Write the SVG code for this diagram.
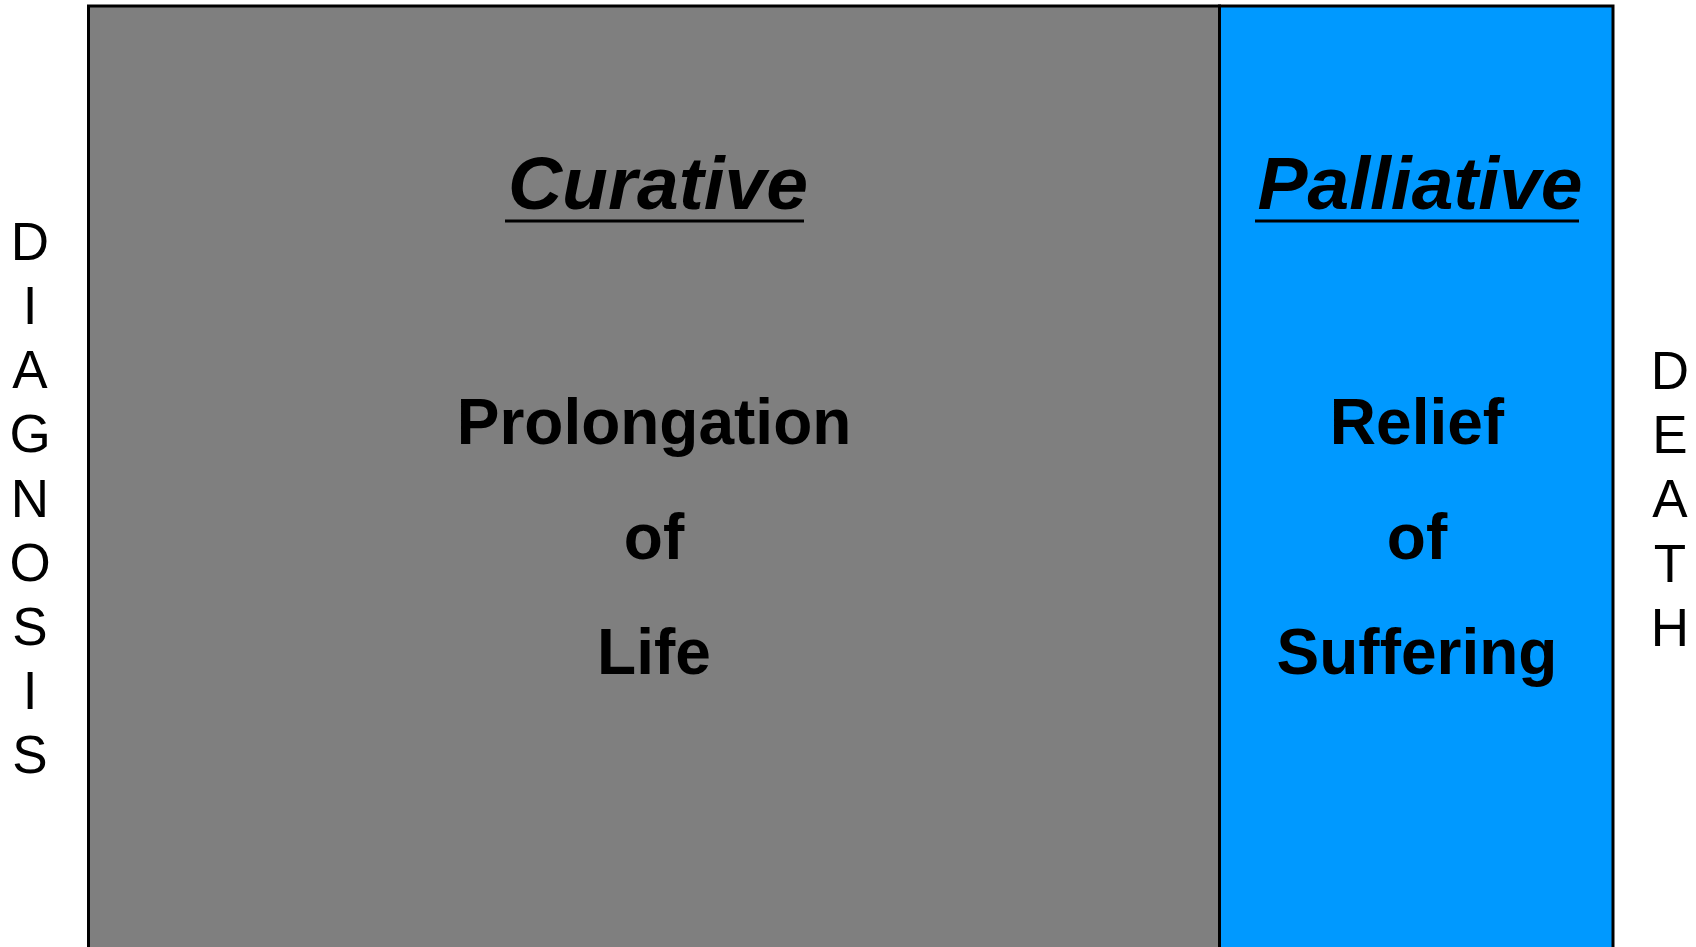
<svg xmlns="http://www.w3.org/2000/svg" width="1696" height="947" viewBox="0 0 1696 947">
<style>
.t{font-family:"Liberation Sans",Arial,sans-serif;fill:#000;text-anchor:middle}
.h{font-size:75px;font-weight:bold;font-style:italic}
.b{font-size:64px;font-weight:bold}
.v{font-size:53px}
.u{stroke:#000;stroke-width:3}
</style>
<rect width="1696" height="947" fill="#fff"/>
<g id="curative">
<rect x="88.5" y="6" width="1131" height="960" fill="#7f7f7f" stroke="#000" stroke-width="3"/>
<text class="t h" x="658" y="209">Curative</text>
<line class="u" x1="505" y1="221" x2="804" y2="221"/>
<text class="t b" x="654" y="444">Prolongation</text>
<text class="t b" x="654" y="559">of</text>
<text class="t b" x="654" y="674">Life</text>
</g>
<g id="palliative">
<rect x="1219.5" y="6" width="393.5" height="960" fill="#0099ff" stroke="#000" stroke-width="3"/>
<text class="t h" x="1420" y="209">Palliative</text>
<line class="u" x1="1255" y1="221" x2="1579" y2="221"/>
<text class="t b" x="1417" y="444">Relief</text>
<text class="t b" x="1417" y="559">of</text>
<text class="t b" x="1417" y="674">Suffering</text>
</g>
<g id="diagnosis">
<text class="t v" x="30"><tspan x="30" y="260">D</tspan><tspan x="30" y="324">I</tspan><tspan x="30" y="388">A</tspan><tspan x="30" y="452">G</tspan><tspan x="30" y="517">N</tspan><tspan x="30" y="581">O</tspan><tspan x="30" y="645">S</tspan><tspan x="30" y="709">I</tspan><tspan x="30" y="773">S</tspan></text>
</g>
<g id="death">
<text class="t v" x="1670"><tspan x="1670" y="389">D</tspan><tspan x="1670" y="453">E</tspan><tspan x="1670" y="517">A</tspan><tspan x="1670" y="582">T</tspan><tspan x="1670" y="646">H</tspan></text>
</g>
</svg>
